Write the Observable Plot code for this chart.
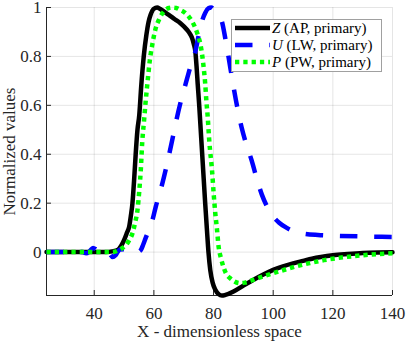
<!DOCTYPE html>
<html><head><meta charset="utf-8">
<script src="https://cdn.jsdelivr.net/npm/d3@7"></script>
<script src="https://cdn.jsdelivr.net/npm/@observablehq/plot@0.6"></script>
<style>
body{margin:0;background:#fff;}
#wrap{position:relative;width:407px;height:341px;}
#wrap svg text{font-family:"Liberation Serif","DejaVu Serif",serif;}
#legend{position:absolute;left:231px;top:19px;}
</style></head><body><div id="wrap"></div>
<script>
// Z (AP, primary) — black solid
const zX = [24,36,44,46,48,49,50,51,51.7,52.3,52.8,53.4,53.9,54.5,55.1,55.8,56.6,57.5,58.2,58.9,60,61.1,62,63.3,65,67,68.9,71.1,72.2,72.8,73.4,73.9,74.3,74.7,75.2,75.6,76.2,76.7,77.2,77.8,78.3,78.9,79.7,80.6,81.7,82.8,84,86.7,90,93.3,96.7,100,103.3,106.7,110,113,116,120,125,130,135,140];
const zV = [0,0,0,0.003,0.01,0.025,0.049,0.08,0.103,0.15,0.198,0.3,0.4,0.5,0.56,0.686,0.8,0.889,0.94,0.97,0.995,1.0,0.995,0.984,0.97,0.952,0.936,0.909,0.89,0.875,0.85,0.82,0.76,0.686,0.6,0.52,0.4,0.3,0.2,0.089,0.0,-0.073,-0.125,-0.154,-0.172,-0.178,-0.175,-0.161,-0.137,-0.114,-0.092,-0.073,-0.058,-0.046,-0.036,-0.027,-0.02,-0.013,-0.008,-0.004,-0.002,-0.001];
// U (LW, primary) — blue dashed
const uX = [24,36,37.3,38.5,39.6,40.5,41.5,43,45,46.2,47.2,48.5,50,52,54,55.6,56.4,57.2,58.3,59.5,60.6,61.7,62.8,64.4,66.1,67.5,69,70.6,72.3,73.9,75,76.1,77.2,78.3,79.2,80.2,81.5,82.8,84,85,86.5,88,89.4,91,92.8,94.5,96.2,98,100,102,104.4,107,110,115,120,130,140];
const uV = [0,0,-0.005,0.004,0.017,0.012,0.001,0,-0.005,-0.02,-0.012,0.01,0.012,0.004,-0.002,0.008,0.03,0.056,0.09,0.13,0.184,0.232,0.279,0.36,0.455,0.537,0.615,0.686,0.76,0.82,0.885,0.943,0.978,0.997,1.0,0.99,0.97,0.943,0.87,0.8,0.69,0.59,0.51,0.44,0.374,0.3,0.235,0.185,0.145,0.12,0.1,0.084,0.076,0.07,0.067,0.064,0.062];
// P (PW, primary) — green dotted
const pX = [24,46,48.3,49.5,50.6,51.7,52.8,53.7,54.5,55.1,55.6,56.1,56.7,57.2,57.8,58.6,59.5,60.5,61.7,62.8,63.9,65,66.1,67.5,68.9,70.3,71.7,72.8,73.9,74.8,75.6,76.2,76.7,77.2,77.6,78,78.6,79.5,80.1,80.6,81.1,81.7,82.5,83.3,84.3,85.6,87,88.9,90.5,93.3,97,102.2,107.8,112.2,117,124.4,130,135,140];
const pV = [0,0,0.008,0.017,0.028,0.048,0.076,0.12,0.171,0.25,0.333,0.45,0.537,0.61,0.686,0.78,0.85,0.91,0.95,0.975,0.99,0.998,1.0,0.998,0.99,0.98,0.963,0.943,0.916,0.885,0.85,0.805,0.753,0.69,0.618,0.56,0.45,0.333,0.23,0.157,0.1,0.022,-0.025,-0.06,-0.09,-0.107,-0.12,-0.127,-0.125,-0.114,-0.098,-0.078,-0.058,-0.045,-0.033,-0.02,-0.013,-0.008,-0.005];

const seriesNames = ["Z", "U", "P"];
const seriesDesc = ["(AP, primary)", "(LW, primary)", "(PW, primary)"];
const xTicks = [40, 60, 80, 100, 120, 140];
const yTicks = [0, 0.2, 0.4, 0.6, 0.8, 1];
const xDomain = [24, 140];
const yDomain = [-0.1775, 1];

const styles = [
  {stroke: "#000000", strokeWidth: 4.5, strokeDasharray: null, strokeLinecap: "round"},
  {stroke: "#0000ff", strokeWidth: 4.5, strokeDasharray: "17.5,16.8", strokeLinecap: "butt"},
  {stroke: "#00ff00", strokeWidth: 4.5, strokeDasharray: "4.3,4", strokeLinecap: "butt"}
];

const toRows = (xs, vs) => xs.map((x, i) => ({x, v: vs[i]}));
const series = [toRows(zX, zV), toRows(uX, uV), toRows(pX, pV)];

const W = 407, H = 341, mL = 46, mR = 15, mT = 7, mB = 46;
const plotW = W - mL - mR, plotH = H - mT - mB;
const axisColor = "#262626";

const chart = Plot.plot({
  width: W, height: H,
  marginLeft: mL, marginRight: mR, marginTop: mT, marginBottom: mB,
  style: {fontFamily: "'Liberation Serif', 'DejaVu Serif', serif", fontSize: "17px", color: axisColor, background: "#fff"},
  x: {domain: xDomain},
  y: {domain: yDomain},
  marks: [
    Plot.gridX(xTicks, {stroke: "#000", strokeOpacity: 0.1}),
    Plot.gridY(yTicks, {stroke: "#000", strokeOpacity: 0.1}),
    Plot.tickX(xTicks, {x: d => d, insetTop: plotH - 5, stroke: axisColor}),
    Plot.tickY(yTicks, {y: d => d, insetRight: plotW - 5, stroke: axisColor}),
    Plot.ruleX([xDomain[0]], {stroke: axisColor}),
    Plot.ruleY([yDomain[0]], {stroke: axisColor}),
    Plot.axisX(xTicks, {tickSize: 0, tickPadding: 11, fontSize: 17, tickFormat: d => String(d),
      label: "X - dimensionless space", labelAnchor: "center", labelArrow: "none", labelOffset: 41}),
    Plot.axisY(yTicks, {tickSize: 0, tickPadding: 5, fontSize: 17, dy: 0.5, tickFormat: d => String(d),
      label: "Normalized values", labelAnchor: "center", labelArrow: "none", labelOffset: 44}),
    ...series.map((rows, i) => Plot.line(rows, {
      x: "x", y: "v", curve: "monotone-x", strokeLinejoin: "round",
      stroke: styles[i].stroke, strokeWidth: styles[i].strokeWidth,
      strokeDasharray: styles[i].strokeDasharray, strokeLinecap: styles[i].strokeLinecap
    }))
  ]
});

const wrap = document.getElementById("wrap");
wrap.appendChild(chart);

// legend overlay (inside plot area, as in the reference)
const lw = 151, lh = 53;
const leg = d3.select(wrap).append("svg").attr("id", "legend")
  .attr("width", lw).attr("height", lh)
  .style("font-family", "'Liberation Serif', 'DejaVu Serif', serif").style("font-size", "15px");
leg.append("rect").attr("x", 0.5).attr("y", 0.5).attr("width", lw - 1).attr("height", lh - 1)
  .attr("fill", "#fff").attr("stroke", "#a0a0a0").attr("stroke-width", 1);
seriesNames.forEach((name, i) => {
  const cy = 9 + i * 17;
  const s = styles[i];
  leg.append("line").attr("x1", 4).attr("x2", 39).attr("y1", cy).attr("y2", cy)
    .attr("stroke", s.stroke).attr("stroke-width", s.strokeWidth)
    .attr("stroke-dasharray", s.strokeDasharray).attr("stroke-linecap", i === 0 ? "butt" : s.strokeLinecap);
  const t = leg.append("text").attr("x", 41).attr("y", cy).attr("dy", "0.35em").attr("fill", "#000");
  t.append("tspan").style("font-style", "italic").text(name);
  t.append("tspan").text(" " + seriesDesc[i]);
});
</script></body></html>
